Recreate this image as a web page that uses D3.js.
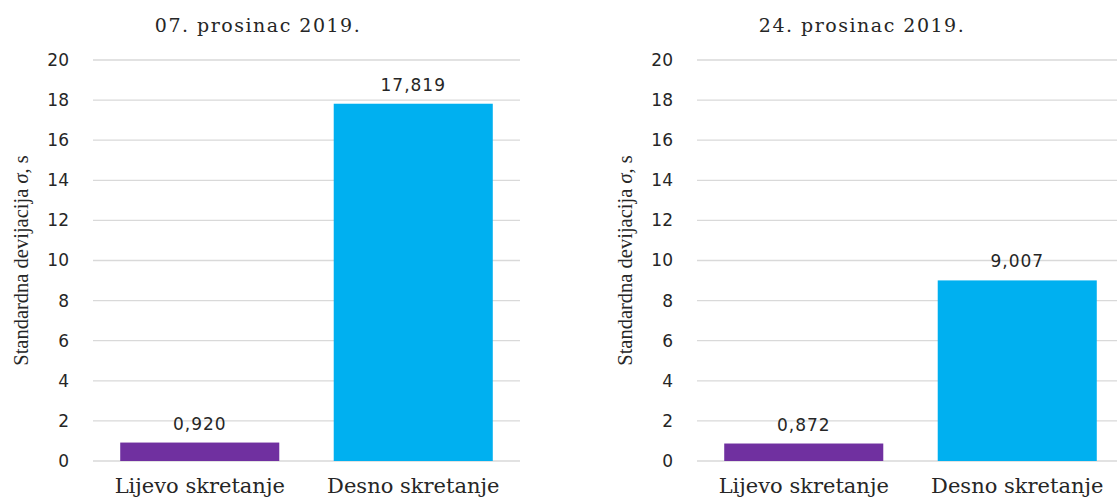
<!DOCTYPE html>
<html>
<head>
<meta charset="utf-8">
<script src="https://cdn.jsdelivr.net/npm/d3@7"></script>
<style>
  body { margin: 0; background: #fff; }
  svg { display: block; }
</style>
</head>
<body>
<svg id="chart" width="1117" height="497"></svg>
<script>
// podaci
const categories = ["Lijevo skretanje", "Desno skretanje"];
const panelTitles = ["07. prosinac 2019.", "24. prosinac 2019."];
const values07 = [0.920, 17.819];
const values24 = [0.872, 9.007];
const yTicks = [0, 2, 4, 6, 8, 10, 12, 14, 16, 18, 20];
const yLabel = "Standardna devijacija ";
const barColors = ["#7030A0", "#00B0F0"];

const hr = d3.formatLocale({ decimal: ",", thousands: ".", grouping: [3], currency: ["", " kn"] });
const fmt = hr.format(".3f");

const svg = d3.select("#chart");
const plotTop = 60, plotBottom = 461, plotW = 427;

function drawPanel(left, title, values) {
  const g = svg.append("g");

  const x = d3.scaleBand()
    .domain(categories)
    .range([left, left + plotW])
    .paddingInner(0.255)
    .paddingOuter(0.1275);

  const y = d3.scaleLinear()
    .domain([0, 20])
    .range([plotBottom, plotTop]);

  // mreža
  g.append("g")
    .selectAll("line")
    .data(yTicks)
    .join("line")
    .attr("x1", left)
    .attr("x2", left + plotW)
    .attr("y1", d => y(d))
    .attr("y2", d => y(d))
    .attr("stroke", "#d9d9d9")
    .attr("stroke-width", 1.3);

  const yAxis = g.append("g")
    .attr("transform", `translate(${left},0)`)
    .call(d3.axisLeft(y).tickValues(yTicks).tickSize(0).tickPadding(24));
  yAxis.select(".domain").remove();
  yAxis.selectAll("text")
    .attr("font-family", "DejaVu Sans")
    .attr("font-size", 17)
    .attr("fill", "#262626");

  g.append("g")
    .selectAll("rect")
    .data(values)
    .join("rect")
    .attr("x", (d, i) => x(categories[i]))
    .attr("y", d => y(d))
    .attr("width", x.bandwidth())
    .attr("height", d => y(0) - y(d))
    .attr("fill", (d, i) => barColors[i]);

  g.append("g")
    .selectAll("text")
    .data(values)
    .join("text")
    .attr("x", (d, i) => x(categories[i]) + x.bandwidth() / 2)
    .attr("y", d => y(d) - 13)
    .attr("text-anchor", "middle")
    .attr("font-family", "DejaVu Sans")
    .attr("font-size", 17)
    .attr("letter-spacing", 1)
    .attr("fill", "#262626")
    .text(d => fmt(d));

  // kategorije
  g.append("g")
    .selectAll("text")
    .data(categories)
    .join("text")
    .attr("x", d => x(d) + x.bandwidth() / 2)
    .attr("y", 493)
    .attr("text-anchor", "middle")
    .attr("font-family", "DejaVu Serif")
    .attr("font-size", 21)
    .attr("fill", "#262626")
    .text(d => d);

  g.append("text")
    .attr("x", left + 165)
    .attr("y", 32)
    .attr("text-anchor", "middle")
    .attr("font-family", "DejaVu Serif")
    .attr("font-size", 19)
    .attr("letter-spacing", 1.5)
    .attr("fill", "#262626")
    .text(title);

  const yl = g.append("text")
    .attr("transform", `translate(${left - 65},${y(10)}) rotate(-90)`)
    .attr("text-anchor", "middle")
    .attr("font-family", "Liberation Serif")
    .attr("font-size", 20.5)
    .attr("fill", "#262626");
  yl.append("tspan").text(yLabel);
  yl.append("tspan").attr("font-style", "italic").text("σ");
  yl.append("tspan").text(", s");
}

drawPanel(93, panelTitles[0], values07);
drawPanel(697, panelTitles[1], values24);
</script>
</body>
</html>
